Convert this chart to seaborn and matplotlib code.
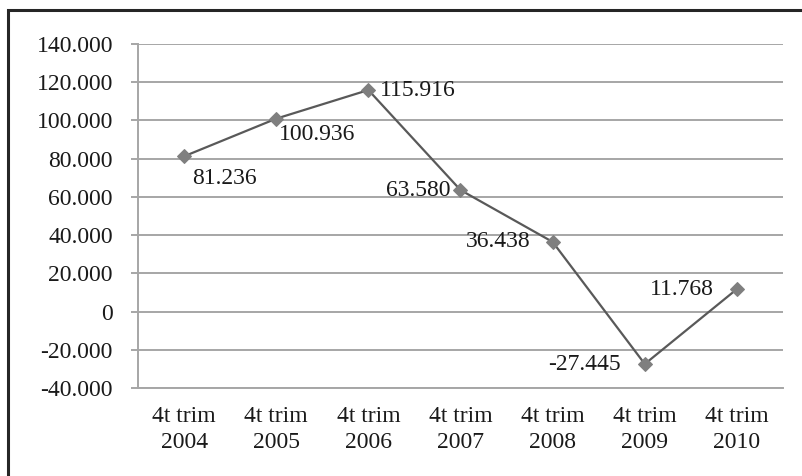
import matplotlib
matplotlib.use("Agg")
import matplotlib.pyplot as plt
import seaborn as sns
import pandas as pd
from matplotlib.patches import Rectangle
from matplotlib.ticker import FuncFormatter, FixedLocator

categories = ["4t trim\n2004", "4t trim\n2005", "4t trim\n2006", "4t trim\n2007",
              "4t trim\n2008", "4t trim\n2009", "4t trim\n2010"]
values = [81236, 100936, 115916, 63580, 36438, -27445, 11768]
value_labels = ["81.236", "100.936", "115.916", "63.580", "36.438", "-27.445", "11.768"]
y_ticks = [-40000, -20000, 0, 20000, 40000, 60000, 80000, 100000, 120000, 140000]

sns.set_style("white")
plt.rcParams["font.family"] = ["Liberation Serif", "DejaVu Serif"]

df = pd.DataFrame({"pos": list(range(len(categories))), "value": values})

fig = plt.figure(figsize=(8.03, 4.76), dpi=100)
ax = fig.add_axes([138 / 803, 1 - 388 / 476, (783 - 138) / 803, (388 - 44) / 476])

grid_c = "#a6a6a6"
txt_c = "#1a1a1a"
fs = 17
sns.lineplot(data=df, x="pos", y="value", ax=ax, color="#595959", linewidth=1.6,
             marker="D", markersize=7.5, markerfacecolor="#7f7f7f",
             markeredgecolor="#7f7f7f", zorder=3)

ax.set_xlim(-0.5, len(categories) - 0.5)
ax.set_ylim(y_ticks[0], y_ticks[-1])
ax.set_yticks(y_ticks)

def fmt(v, _):
    v = int(round(v))
    if v == 0:
        return "0"
    s = f"{abs(v):,}".replace(",", ".")
    return ("-" if v < 0 else "") + s

ax.yaxis.set_major_formatter(FuncFormatter(fmt))
ax.yaxis.grid(True, color=grid_c, linewidth=1.4)
ax.set_axisbelow(True)

ax.set_xticks(range(len(categories)))
ax.set_xticklabels(categories, linespacing=1.3)
ax.xaxis.set_minor_locator(FixedLocator([i - 0.5 for i in range(len(categories) + 1)]))
ax.tick_params(axis="x", which="major", length=0, pad=13, labelsize=fs, colors=txt_c)
ax.tick_params(axis="x", which="minor", length=4.3, width=1.4, color=grid_c, direction="out")
ax.tick_params(axis="y", which="major", length=5, width=1.4, color=grid_c, pad=13,
               labelsize=fs, labelcolor=txt_c, left=True)
ax.set_xlabel("")
ax.set_ylabel("")

for s in ["top", "right"]:
    ax.spines[s].set_visible(False)
for s in ["left", "bottom"]:
    ax.spines[s].set_color(grid_c)
    ax.spines[s].set_linewidth(1.4)

offsets = [(40, -22, "center"), (41, -16, "center"), (12, 0, "left"), (-10, 0, "right"),
           (-22, 0, "right"), (-24, 0, "right"), (-23, 0, "right")]
for i, (v, lab) in enumerate(zip(values, value_labels)):
    dx, dy, ha = offsets[i]
    ax.annotate(lab, (i, v), xytext=(dx, dy), textcoords="offset pixels",
                ha=ha, va="center", fontsize=fs, color=txt_c)

fig.patches.append(Rectangle((8 / 803, -0.1), 1.2, 1 - 10 / 476 + 0.1,
                             transform=fig.transFigure, fill=False,
                             edgecolor="#262626", linewidth=2.2, clip_on=False))

fig.savefig("out.png", dpi=100)
